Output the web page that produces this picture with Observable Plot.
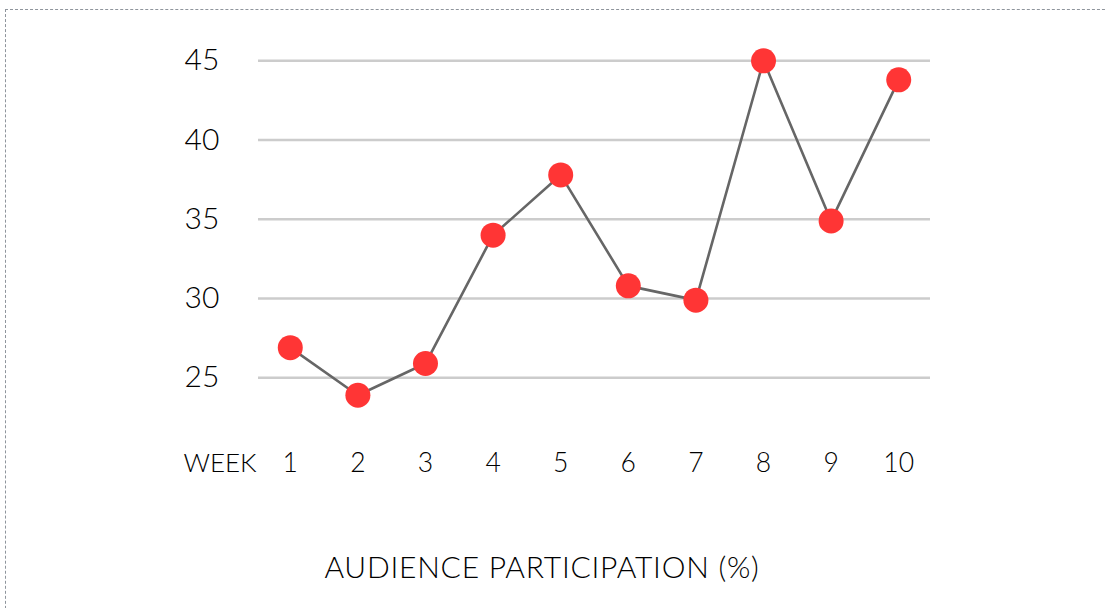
<!DOCTYPE html>
<html>
<head>
<meta charset="utf-8">
<script src="https://cdn.jsdelivr.net/npm/d3@7"></script>
<script src="https://cdn.jsdelivr.net/npm/@observablehq/plot@0.6"></script>
<style>
  html, body { margin: 0; padding: 0; background: #fff; overflow: hidden; }
  body { width: 1105px; height: 608px; position: relative; font-family: Lato, "Open Sans", sans-serif; }
  #frame {
    position: absolute; left: 5px; top: 9px; width: 1120px; height: 640px;
    border: 1px dashed #8f959c; box-sizing: border-box;
  }
  #chart { position: absolute; left: 0; top: 0; }
  #title {
    position: absolute; left: 0; width: 1084px; top: 551px;
    text-align: center; font-size: 30px; line-height: 30px; font-weight: 300;
    color: #000; letter-spacing: 0.75px;
  }
</style>
</head>
<body>
<div id="frame"></div>
<div id="chart"></div>
<div id="title">AUDIENCE PARTICIPATION (%)</div>
<script>
// Weekly audience participation, in percent
const weeks = [1, 2, 3, 4, 5, 6, 7, 8, 9, 10];
const participation = [26.9, 23.9, 25.9, 34, 37.8, 30.8, 29.9, 45, 34.9, 43.8];
const yTicks = [25, 30, 35, 40, 45];
const xAxisName = "WEEK";

const rows = weeks.map((w, i) => ({week: w, value: participation[i]}));

const chart = Plot.plot({
  width: 1105,
  height: 500,
  marginLeft: 258,
  marginRight: 175,
  marginTop: 40,
  marginBottom: 47,
  style: {fontFamily: "Lato, 'Open Sans', sans-serif", color: "#000", background: "transparent"},
  x: {type: "linear", domain: [0.53, 10.47]},
  y: {domain: [25, 45], range: [377.3, 60.3]},
  marks: [
    Plot.gridY(yTicks, {stroke: "#cccccc", strokeOpacity: 1, strokeWidth: 2.4}),
    Plot.axisY(yTicks, {
      tickSize: 0, tickPadding: 0, textAnchor: "start", dx: -74,
      fontSize: 30, fontWeight: 300, fill: "#000", label: null
    }),
    Plot.axisX(weeks, {
      anchor: "bottom", tickSize: 0, tickPadding: 0,
      fontSize: 26.5, fontWeight: 300, fill: "#000", label: null
    }),
    Plot.text([xAxisName], {
      frameAnchor: "bottom-left", textAnchor: "start", lineAnchor: "top",
      dx: -75, fontSize: 26, fontWeight: 300, fill: "#000"
    }),
    Plot.line(rows, {x: "week", y: "value", stroke: "#666666", strokeWidth: 2.6}),
    Plot.dot(rows, {x: "week", y: "value", r: 12.5, fill: "#ff3535", stroke: "none"})
  ]
});
document.getElementById("chart").appendChild(chart);
</script>
</body>
</html>
